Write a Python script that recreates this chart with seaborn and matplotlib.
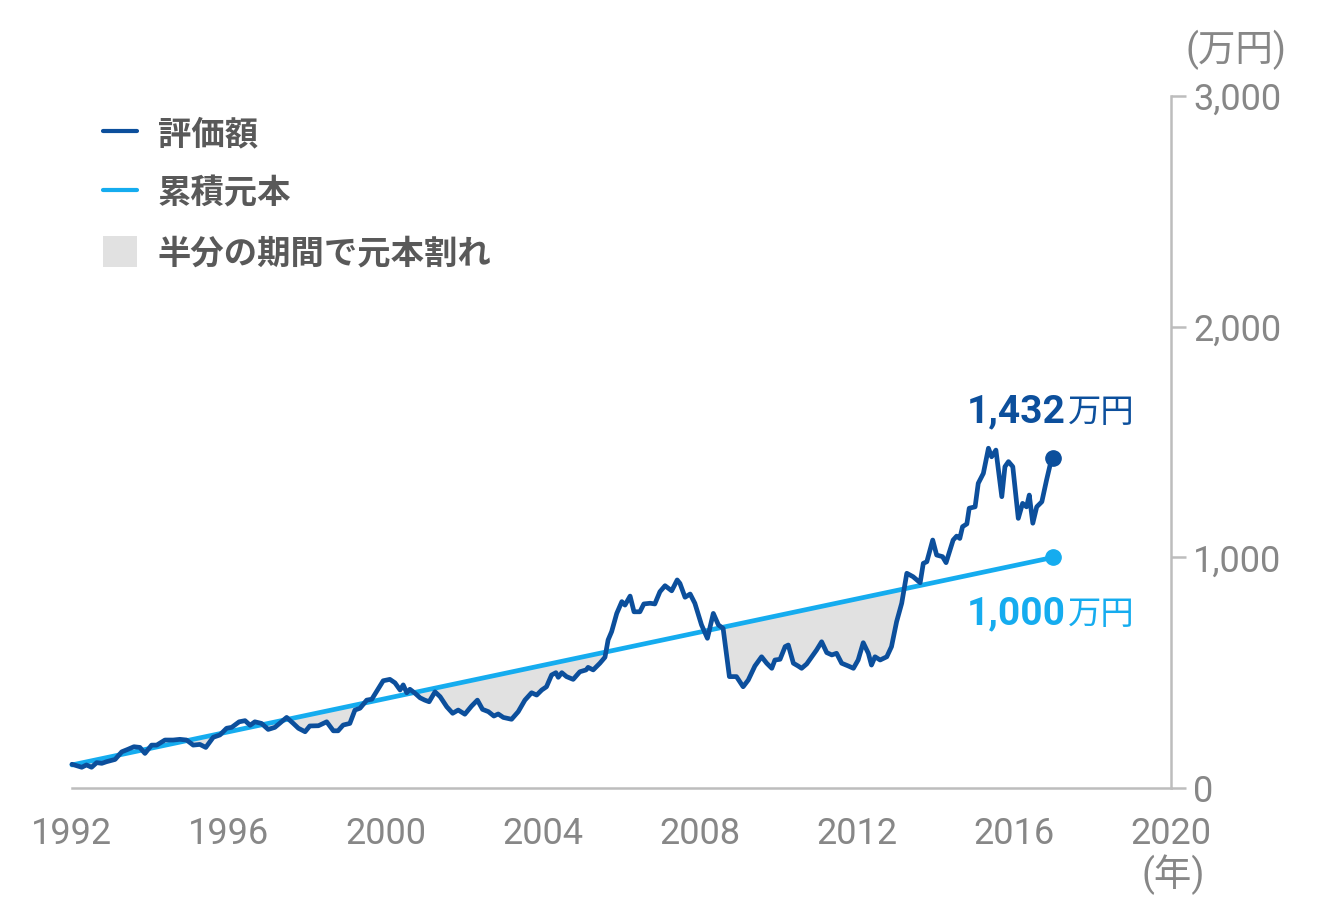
import numpy as np
import pandas as pd
import seaborn as sns
import matplotlib.pyplot as plt
from matplotlib.lines import Line2D
from matplotlib.patches import Patch

# 評価額（万円）: 1992年〜2017年
years = [1992.00, 1992.25, 1992.37, 1992.50, 1992.63, 1992.76, 1992.88, 1993.10, 1993.27, 1993.43,
         1993.58, 1993.73, 1993.86, 1994.03, 1994.16, 1994.37, 1994.58, 1994.75, 1994.92, 1995.09,
         1995.26, 1995.41, 1995.60, 1995.77, 1995.94, 1996.07, 1996.26, 1996.41, 1996.54, 1996.66,
         1996.83, 1997.00, 1997.17, 1997.47, 1997.64, 1997.77, 1997.94, 1998.06, 1998.28, 1998.49,
         1998.66, 1998.78, 1998.91, 1999.08, 1999.21, 1999.34, 1999.51, 1999.64, 1999.93, 2000.10,
         2000.23, 2000.36, 2000.44, 2000.53, 2000.61, 2000.74, 2000.87, 2000.99, 2001.10, 2001.25,
         2001.38, 2001.55, 2001.70, 2001.84, 2002.01, 2002.18, 2002.33, 2002.46, 2002.61, 2002.75,
         2002.86, 2002.99, 2003.20, 2003.37, 2003.54, 2003.71, 2003.84, 2003.97, 2004.09, 2004.22,
         2004.33, 2004.39, 2004.48, 2004.60, 2004.77, 2004.94, 2005.10, 2005.15, 2005.28, 2005.45,
         2005.58, 2005.66, 2005.75, 2005.88, 2006.01, 2006.09, 2006.22, 2006.32, 2006.47, 2006.57,
         2006.73, 2006.85, 2006.98, 2007.11, 2007.28, 2007.42, 2007.49, 2007.62, 2007.75, 2007.87,
         2008.04, 2008.19, 2008.34, 2008.47, 2008.59, 2008.75, 2008.93, 2009.10, 2009.23, 2009.40,
         2009.57, 2009.70, 2009.83, 2009.91, 2010.04, 2010.17, 2010.25, 2010.38, 2010.50, 2010.59,
         2010.72, 2010.85, 2010.97, 2011.10, 2011.23, 2011.36, 2011.48, 2011.61, 2011.78, 2011.91,
         2012.03, 2012.16, 2012.29, 2012.37, 2012.46, 2012.59, 2012.76, 2012.88, 2013.01, 2013.14,
         2013.27, 2013.43, 2013.61, 2013.69, 2013.78, 2013.93, 2014.03, 2014.18, 2014.27, 2014.45,
         2014.54, 2014.62, 2014.69, 2014.80, 2014.86, 2015.01, 2015.09, 2015.22, 2015.35, 2015.43,
         2015.54, 2015.69, 2015.77, 2015.86, 2015.97, 2016.11, 2016.22, 2016.32, 2016.39, 2016.48,
         2016.58, 2016.71, 2016.83, 2016.92, 2017.00]
value = [103, 90, 100, 90, 110, 107, 114, 124, 157, 168,
         179, 176, 150, 186, 186, 208, 208, 211, 208, 186,
         189, 176, 220, 230, 259, 263, 287, 292, 272, 287,
         280, 254, 263, 306, 280, 259, 244, 269, 270, 287,
         248, 248, 273, 280, 338, 346, 381, 385, 465, 471,
         456, 425, 447, 413, 428, 411, 391, 381, 374, 417,
         396, 352, 324, 338, 320, 355, 381, 341, 331, 312,
         321, 306, 298, 331, 381, 413, 403, 425, 439, 490,
         500, 480, 500, 483, 471, 504, 512, 523, 512, 541,
         567, 642, 678, 757, 808, 793, 832, 764, 764, 798,
         801, 798, 851, 877, 855, 902, 887, 827, 841, 801,
         707, 649, 757, 707, 692, 483, 483, 439, 468, 529,
         569, 541, 519, 555, 558, 613, 620, 541, 529, 519,
         538, 569, 598, 634, 587, 577, 584, 541, 529, 519,
         555, 630, 584, 533, 569, 555, 569, 613, 721, 801,
         931, 916, 890, 974, 981, 1075, 1010, 1003, 977, 1075,
         1092, 1082, 1133, 1145, 1213, 1219, 1321, 1364, 1473, 1436,
         1465, 1263, 1393, 1415, 1393, 1169, 1234, 1219, 1270, 1148,
         1219, 1241, 1335, 1400, 1432]

# 累積元本（万円）
principal_years = [1992, 2017]
principal = [100, 1000]

x_ticks = [1992, 1996, 2000, 2004, 2008, 2012, 2016, 2020]
y_ticks = [0, 1000, 2000, 3000]
y_ticklabels = ["0", "1,000", "2,000", "3,000"]

labels = ["評価額", "累積元本", "半分の期間で元本割れ"]

DARK = "#0c4f9c"
LIGHT = "#15acef"
FILL = "#e1e1e1"
AXIS = "#bdbdbd"
GREY_TXT = "#878787"

sns.set_theme(style="white")
plt.rcParams['font.family'] = ['Roboto', 'Noto Sans CJK JP', 'DejaVu Sans']

df = pd.DataFrame({"year": years, "value": value})
df["principal"] = np.interp(df["year"], principal_years, principal)

fig = plt.figure(figsize=(13.2, 9.18), dpi=100)
ax = fig.add_axes([0.0545, 0.1416, 0.8326, 0.7538])

ax.fill_between(df["year"], df["value"], df["principal"],
                where=df["value"] < df["principal"], interpolate=True,
                color=FILL, linewidth=0, zorder=1)
sns.lineplot(x=principal_years, y=principal, ax=ax, color=LIGHT, linewidth=3.4,
             zorder=2, clip_on=False)
sns.lineplot(data=df, x="year", y="value", ax=ax, color=DARK, linewidth=3.4,
             estimator=None, sort=False, zorder=3, clip_on=False)
ax.plot(principal_years[-1], principal[-1], "o", color=LIGHT, markersize=11, zorder=4)
ax.plot(years[-1], value[-1], "o", color=DARK, markersize=11, zorder=4)

ax.set_xlim(1992, 2020)
ax.set_ylim(0, 3000)
ax.set_xticks(x_ticks)
ax.set_xticklabels([str(t) for t in x_ticks])
ax.set_yticks(y_ticks)
ax.set_yticklabels(y_ticklabels)
ax.yaxis.tick_right()
ax.set_xlabel("")
ax.set_ylabel("")

for s in ["left", "top"]:
    ax.spines[s].set_visible(False)
for s in ["right", "bottom"]:
    ax.spines[s].set_color(AXIS)
    ax.spines[s].set_linewidth(1.8)
ax.tick_params(axis="x", direction="out", length=11, width=1.8, color=AXIS,
               labelsize=26, labelcolor=GREY_TXT, pad=9)
ax.tick_params(axis="y", direction="out", length=11, width=1.8, color=AXIS,
               labelsize=26, labelcolor=GREY_TXT, pad=5, right=True, left=False)

fig.text(1173 / 1320, 1 - 875 / 918, "(年)", ha="center", va="center",
         fontsize=27, color=GREY_TXT)
fig.text(1236 / 1320, 1 - 50 / 918, "(万円)", ha="center", va="center",
         fontsize=27, color=GREY_TXT)

# 終点の注記
fig.text(1066 / 1320, 1 - 422 / 918, "1,432", ha="right", va="baseline",
         fontsize=28, fontweight="bold", color=DARK)
fig.text(1068 / 1320, 1 - 422 / 918, "万円", ha="left", va="baseline",
         fontsize=24, color=DARK)
fig.text(1066 / 1320, 1 - 624 / 918, "1,000", ha="right", va="baseline",
         fontsize=28, fontweight="bold", color=LIGHT)
fig.text(1068 / 1320, 1 - 624 / 918, "万円", ha="left", va="baseline",
         fontsize=24, color=LIGHT)

handles = [Line2D([], [], color=DARK, linewidth=3),
           Line2D([], [], color=LIGHT, linewidth=3),
           Patch(facecolor=FILL, edgecolor="none")]
leg = ax.legend(handles, labels, loc="upper left", frameon=False,
                bbox_to_anchor=(103 / 1320, 1 - 117 / 918), bbox_transform=fig.transFigure,
                borderpad=0, borderaxespad=0, handlelength=1.02, handleheight=1.08,
                handletextpad=0.62, labelspacing=0.76,
                prop={"size": 24, "weight": "bold"})
for t in leg.get_texts():
    t.set_color("#595959")

fig.savefig("out.png", dpi=100)
